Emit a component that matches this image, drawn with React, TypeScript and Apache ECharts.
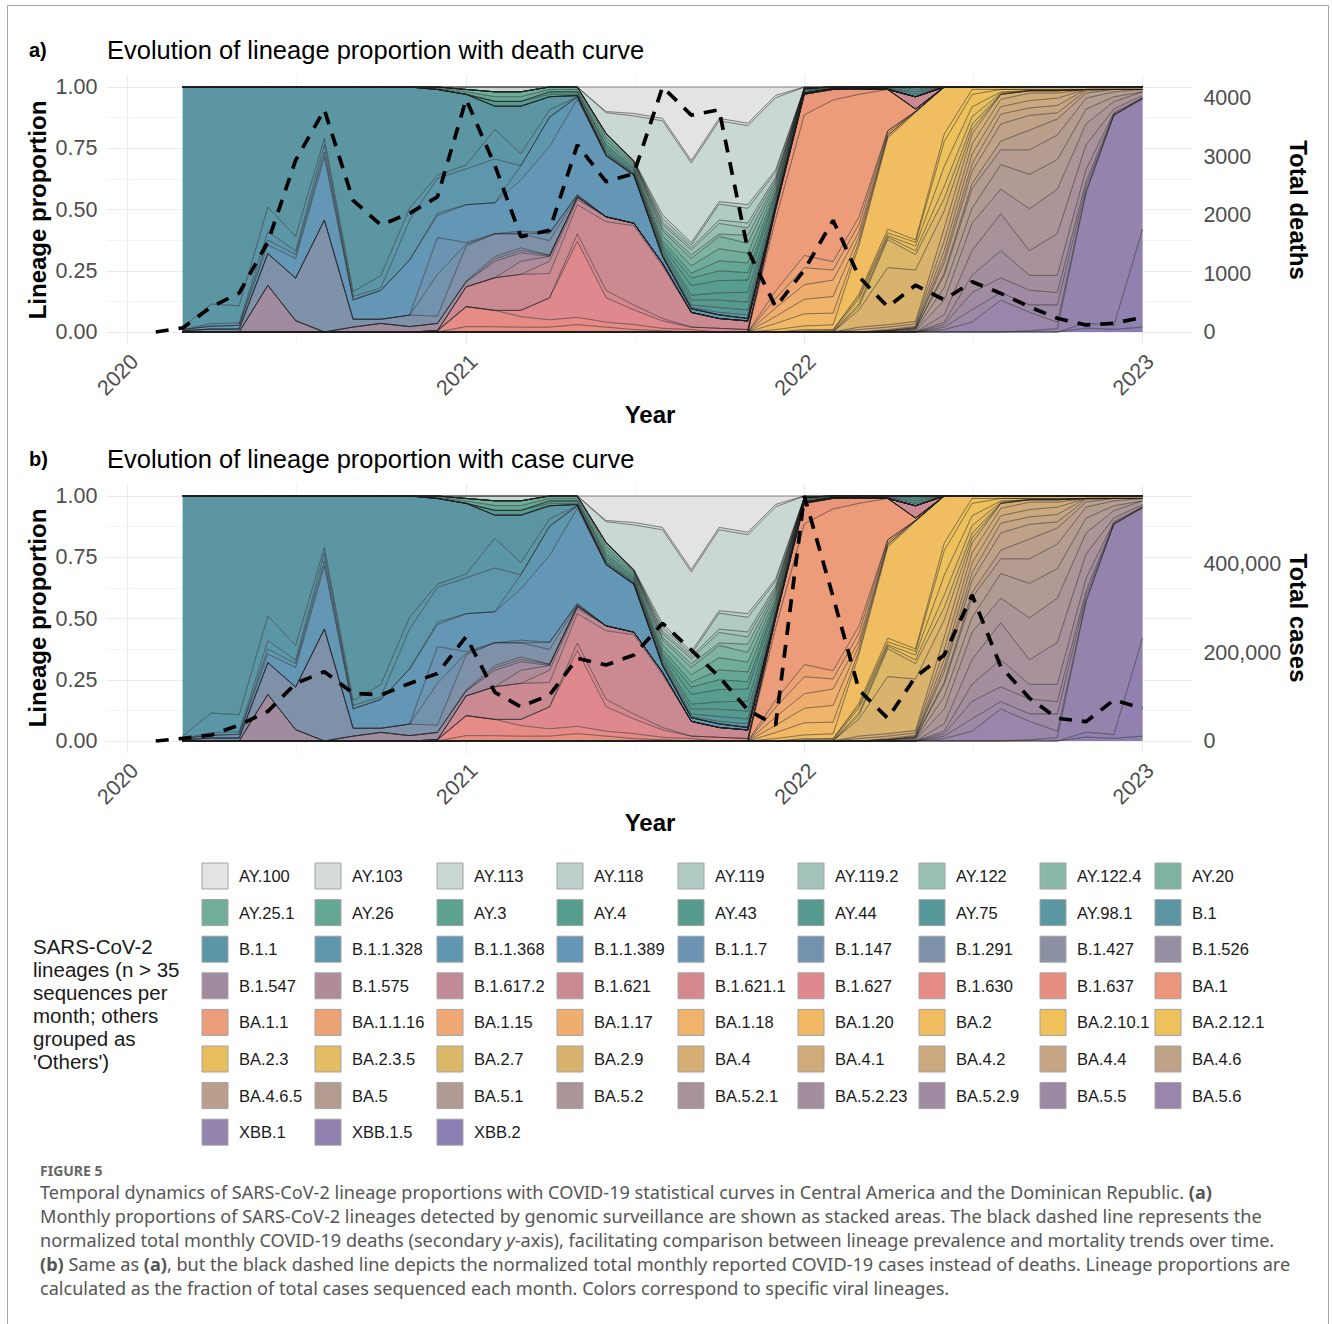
import React, { useEffect, useRef } from 'react';
import * as echarts from 'echarts';

// ---------- categories ----------
const MONTHS = [
  '2020-03','2020-04','2020-05','2020-06','2020-07','2020-08','2020-09','2020-10','2020-11','2020-12',
  '2021-01','2021-02','2021-03','2021-04','2021-05','2021-06','2021-07','2021-08','2021-09','2021-10','2021-11','2021-12',
  '2022-01','2022-02','2022-03','2022-04','2022-05','2022-06','2022-07','2022-08','2022-09','2022-10','2022-11','2022-12',
  '2023-01',
];
const LINE_MONTHS = ['2020-02', ...MONTHS];
const YEAR_TICKS = ['2020-01-01', '2021-01-01', '2022-01-01', '2023-01-01'];
const HALF_YEAR_TICKS = ['2020-07-02', '2021-07-02', '2022-07-02'];
const PROP_TICKS = [0, 0.25, 0.5, 0.75, 1];
const PROP_MINOR = [0.125, 0.375, 0.625, 0.875];
const DEATH_TICKS = [0, 1000, 2000, 3000, 4000];
const CASE_TICKS = [0, 200000, 400000];

// ---------- lineage proportions (monthly, Mar 2020 .. Jan 2023) ----------
// layout of each array: 2020 Mar-Dec (10) | 2021 (12) | 2022 (12) | 2023 Jan (1)
const AY_LINEAGES: [string, number[]][] = [
  ['AY.100',  [0,0,0,0,0,0,0,0,0,0, 0,0,0,0,0,.10,.108,.128,.30,.128,.148,.035, 0,0,0,0,0,0,0,0,0,0,0,0, 0]],
  ['AY.103',  [0,0,0,0,0,0,0,0,0,0, 0,0,0,0,0,.005,.01,.01,.01,.01,.01,.01, 0,0,0,0,0,0,0,0,0,0,0,0, 0]],
  ['AY.113',  [0,0,0,0,0,0,0,0,0,0, .01,.02,.02,0,0,.085,.182,.384,.325,.33,.322,.30, .005,0,0,0,0,0,0,0,0,0,0,0, 0]],
  ['AY.118',  [0,0,0,0,0,0,0,0,0,0, 0,0,0,0,0,0,.001,.015,.01,.01,.015,.01, 0,0,0,0,0,0,0,0,0,0,0,0, 0]],
  ['AY.119',  [0,0,0,0,0,0,0,0,0,0, 0,0,0,0,0,0,.001,.015,.01,.065,.06,.02, 0,0,0,0,0,0,0,0,0,0,0,0, 0]],
  ['AY.119.2',[0,0,0,0,0,0,0,0,0,0, 0,0,0,0,0,0,.002,.01,.01,.014,.02,.01, 0,0,0,0,0,0,0,0,0,0,0,0, 0]],
  ['AY.122',  [0,0,0,0,0,0,0,0,0,0, 0,0,0,0,0,0,.002,.015,.02,.043,.03,.01, 0,0,0,0,0,0,0,0,0,0,0,0, 0]],
  ['AY.122.4',[0,0,0,0,0,0,0,0,0,0, 0,0,0,0,0,0,.002,.01,.015,.01,.033,.01, 0,0,0,0,0,0,0,0,0,0,0,0, 0]],
  ['AY.20',   [0,0,0,0,0,0,0,0,0,0, 0,0,0,0,0,.015,.006,.02,.03,.05,.04,.015, 0,0,0,0,0,0,0,0,0,0,0,0, 0]],
  ['AY.25.1', [0,0,0,0,0,0,0,0,0,.005, .01,.02,.02,.01,.01,.015,.008,.02,.03,.05,.04,.015, 0,0,0,0,0,0,0,0,0,0,0,0, 0]],
  ['AY.26',   [0,0,0,0,0,0,0,0,0,.005, .01,.02,.02,.01,.01,.015,.008,.015,.02,.04,.04,.01, 0,0,0,0,0,0,0,0,0,0,0,0, 0]],
  ['AY.3',    [0,0,0,0,0,0,0,0,0,0, 0,0,0,0,0,.01,.006,.01,.03,.04,.03,.01, 0,0,0,0,0,0,0,0,0,0,0,0, 0]],
  ['AY.4',    [0,0,0,0,0,0,0,0,0,0, 0,0,0,.01,.01,.01,.008,.01,.04,.05,.05,.015, .005,0,0,0,0,0,0,0,0,0,0,0, 0]],
  ['AY.43',   [0,0,0,0,0,0,0,0,0,0, 0,.02,.02,.01,.005,.01,.006,.01,.02,.03,.04,.01, 0,0,0,0,.01,0,0,0,0,0,0,0, 0]],
  ['AY.44',   [0,0,0,0,0,0,0,0,0,0, 0,0,0,0,0,.005,.004,.01,.02,.03,.032,.01, .005,.004,0,.005,.01,0,0,0,0,0,0,0, 0]],
  ['AY.75',   [0,0,0,0,0,0,0,0,0,0, 0,0,0,0,0,.005,.003,.005,.01,.02,.02,.005, .005,0,.005,0,.01,0,0,0,0,0,0,0, 0]],
  ['AY.98.1', [0,0,0,0,0,0,0,0,0,0, 0,0,0,0,0,.005,.003,.005,.005,.01,.015,.005, .005,.003,0,.005,.01,0,0,0,0,0,0,0, 0]],
];

const B_LINEAGES: [string, number[]][] = [
  ['B.1',       [.98,.886,.893,.49,.61,.21,.835,.77,.495,.35, .29,.096,.198,.054,.005,0,0,0,0,0,0,0, 0,0,0,0,0,0,0,0,0,0,0,0, 0]],
  ['B.1.1',     [.01,.08,.07,.10,.06,.025,.02,.05,.048,.013, .016,.124,.05,.03,0,0,0,0,0,0,0,0, 0,0,0,0,0,0,0,0,0,0,0,0, 0]],
  ['B.1.1.328', [0,.01,.01,.035,.014,.03,.014,.01,.163,.142, .147,.182,0,0,0,0,0,0,0,0,0,0, 0,0,0,0,0,0,0,0,0,0,0,0, 0]],
  ['B.1.1.368', [0,0,0,.02,.016,.02,0,0,0,.01, 0,0,.059,.12,.01,0,0,0,0,0,0,0, 0,0,0,0,0,0,0,0,0,0,0,0, 0]],
  ['B.1.1.389', [.005,.012,.015,.035,.08,.258,.079,.118,.225,.09, .155,.129,.213,.356,.39,.25,.196,.028,.015,.015,.01,0, 0,0,0,0,0,0,0,0,0,0,0,0, 0]],
  ['B.1.1.7',   [0,0,0,0,0,0,0,0,0,.15, .007,0,.011,0,0,0,0,0,0,0,0,0, 0,0,0,0,0,0,0,0,0,0,0,0, 0]],
  ['B.1.147',   [0,0,0,0,0,0,0,0,0,.17, .007,0,0,.03,.005,0,0,0,0,0,0,0, 0,0,0,0,0,0,0,0,0,0,0,0, 0]],
  ['B.1.291',   [.005,.012,.012,.13,.174,.457,.032,.017,.047,.03, .143,.095,.059,.06,.005,0,0,0,0,0,0,0, 0,0,0,0,0,0,0,0,0,0,0,0, 0]],
  ['B.1.427',   [0,0,0,0,0,0,0,0,0,0, .005,.01,.01,0,0,0,0,0,0,0,0,0, 0,0,0,0,0,0,0,0,0,0,0,0, 0]],
  ['B.1.526',   [0,0,0,0,0,0,0,0,0,0, 0,.01,.01,.005,0,0,0,0,0,0,0,0, 0,0,0,0,0,0,0,0,0,0,0,0, 0]],
  ['B.1.547',   [0,0,0,.19,.046,0,.02,.035,.022,.03, .02,.068,.036,0,0,0,0,0,0,0,0,0, 0,0,0,0,0,0,0,0,0,0,0,0, 0]],
  ['B.1.575',   [0,0,0,0,0,0,0,0,0,0, 0,0,.054,.02,.01,0,0,0,0,0,0,0, 0,0,0,0,0,0,0,0,0,0,0,0, 0]],
  ['B.1.617.2', [0,0,0,0,0,0,0,0,0,0, 0,0,0,.05,.02,.02,.01,.01,0,0,0,0, 0,0,0,0,0,0,0,0,0,0,0,0, 0]],
  ['B.1.621',   [0,0,0,0,0,0,0,0,0,0, .081,.136,.15,.10,.12,.28,.324,.215,.06,.04,.035,.01, .005,.003,.005,0,.05,0,0,0,0,0,0,0, 0]],
  ['B.1.621.1', [0,0,0,0,0,0,0,0,0,0, 0,0,0,0,.03,.03,.02,.01,0,0,0,0, 0,0,0,0,0,0,0,0,0,0,0,0, 0]],
  ['B.1.627',   [0,0,0,0,0,0,0,0,0,0, 0,0,.026,.09,.31,.10,.06,.03,.01,.015,.01,0, 0,0,0,0,0,0,0,0,0,0,0,0, 0]],
  ['B.1.630',   [0,0,0,0,0,0,0,0,0,.005, .082,.068,.044,.03,.03,.02,.02,.01,.01,0,0,0, 0,0,0,0,0,0,0,0,0,0,0,0, 0]],
  ['B.1.637',   [0,0,0,0,0,0,0,0,0,0, .022,.022,.02,.02,.03,.02,.01,.005,0,0,0,0, 0,0,0,0,0,0,0,0,0,0,0,0, 0]],
];

const BA1_LINEAGES: [string, number[]][] = [
  ['BA.1',      [0,0,0,0,0,0,0,0,0,0, 0,0,0,0,0,0,0,0,0,0,0,.04, .085,.043,.02,0,0,0,0,0,0,0,0,0, 0]],
  ['BA.1.1',    [0,0,0,0,0,0,0,0,0,0, 0,0,0,0,0,0,0,0,0,0,0,.30, .58,.66,.50,.17,.01,0,0,0,0,0,0,0, 0]],
  ['BA.1.1.16', [0,0,0,0,0,0,0,0,0,0, 0,0,0,0,0,0,0,0,0,0,0,.03, .05,.034,.03,0,0,0,0,0,0,0,0,0, 0]],
  ['BA.1.15',   [0,0,0,0,0,0,0,0,0,0, 0,0,0,0,0,0,0,0,0,0,0,.04, .07,.041,.03,.01,0,0,0,0,0,0,0,0, 0]],
  ['BA.1.17',   [0,0,0,0,0,0,0,0,0,0, 0,0,0,0,0,0,0,0,0,0,0,.035, .06,.067,.02,.01,0,0,0,0,0,0,0,0, 0]],
  ['BA.1.18',   [0,0,0,0,0,0,0,0,0,0, 0,0,0,0,0,0,0,0,0,0,0,.03, .06,.068,.02,0,0,0,0,0,0,0,0,0, 0]],
  ['BA.1.20',   [0,0,0,0,0,0,0,0,0,0, 0,0,0,0,0,0,0,0,0,0,0,.025, .05,.048,.015,.01,.004,0,0,0,0,0,0,0, 0]],
];

const BA2_LINEAGES: [string, number[]][] = [
  ['BA.2',      [0,0,0,0,0,0,0,0,0,0, 0,0,0,0,0,0,0,0,0,0,0,.01, .015,.02,.20,.375,.52,.19,.01,.01,.01,.01,.01,.01, .01]],
  ['BA.2.10.1', [0,0,0,0,0,0,0,0,0,0, 0,0,0,0,0,0,0,0,0,0,0,0, .005,0,.01,.015,.01,.03,.02,0,0,0,0,0, 0]],
  ['BA.2.12.1', [0,0,0,0,0,0,0,0,0,0, 0,0,0,0,0,0,0,0,0,0,0,0, .005,.005,.01,.012,.015,.10,.05,.01,.005,.005,0,0, 0]],
  ['BA.2.3',    [0,0,0,0,0,0,0,0,0,0, 0,0,0,0,0,0,0,0,0,0,0,0, 0,.004,.02,.006,.02,.08,.04,.005,0,0,0,0, 0]],
  ['BA.2.3.5',  [0,0,0,0,0,0,0,0,0,0, 0,0,0,0,0,0,0,0,0,0,0,0, 0,0,.01,.01,.015,.05,.03,.005,0,0,0,0, 0]],
  ['BA.2.7',    [0,0,0,0,0,0,0,0,0,0, 0,0,0,0,0,0,0,0,0,0,0,0, 0,0,.015,.115,.063,.05,.02,0,0,0,0,0, 0]],
  ['BA.2.9',    [0,0,0,0,0,0,0,0,0,0, 0,0,0,0,0,0,0,0,0,0,0,0, 0,0,.07,.235,.21,.07,.02,0,0,0,0,0, 0]],
];

const BA4_LINEAGES: [string, number[]][] = [
  ['BA.4',      [0,0,0,0,0,0,0,0,0,0, 0,0,0,0,0,0,0,0,0,0,0,0, 0,0,.01,.01,.01,.05,.04,.02,.01,.01,0,0, 0]],
  ['BA.4.1',    [0,0,0,0,0,0,0,0,0,0, 0,0,0,0,0,0,0,0,0,0,0,0, 0,0,.01,.01,.01,.04,.04,.03,.03,.02,0,0, 0]],
  ['BA.4.2',    [0,0,0,0,0,0,0,0,0,0, 0,0,0,0,0,0,0,0,0,0,0,0, 0,0,0,.005,.005,.03,.04,.03,.03,.03,0,0, 0]],
  ['BA.4.4',    [0,0,0,0,0,0,0,0,0,0, 0,0,0,0,0,0,0,0,0,0,0,0, 0,0,0,0,0,.02,.03,.04,.03,.03,.005,0, 0]],
  ['BA.4.6',    [0,0,0,0,0,0,0,0,0,0, 0,0,0,0,0,0,0,0,0,0,0,0, 0,0,0,0,.005,.04,.05,.07,.06,.025,.01,0, 0]],
  ['BA.4.6.5',  [0,0,0,0,0,0,0,0,0,0, 0,0,0,0,0,0,0,0,0,0,0,0, 0,0,0,0,0,.01,.02,.035,.08,.065,.02,.01, 0]],
];

const BA5_LINEAGES: [string, number[]][] = [
  ['BA.5',      [0,0,0,0,0,0,0,0,0,0, 0,0,0,0,0,0,0,0,0,0,0,0, 0,0,0,.005,.005,.05,.08,.06,.10,.10,.045,.02, .01]],
  ['BA.5.1',    [0,0,0,0,0,0,0,0,0,0, 0,0,0,0,0,0,0,0,0,0,0,0, 0,0,0,0,.004,.05,.06,.10,.14,.12,.06,.02, 0]],
  ['BA.5.2',    [0,0,0,0,0,0,0,0,0,0, 0,0,0,0,0,0,0,0,0,0,0,0, 0,0,0,0,.004,.06,.11,.10,.17,.18,.085,.03, .015]],
  ['BA.5.2.1',  [0,0,0,0,0,0,0,0,0,0, 0,0,0,0,0,0,0,0,0,0,0,0, 0,0,0,0,0,.03,.10,.15,.10,.17,.10,.015, .01]],
  ['BA.5.2.23', [0,0,0,0,0,0,0,0,0,0, 0,0,0,0,0,0,0,0,0,0,0,0, 0,0,0,0,0,.01,.07,.11,.06,.07,.05,.005, 0]],
  ['BA.5.2.9',  [0,0,0,0,0,0,0,0,0,0, 0,0,0,0,0,0,0,0,0,0,0,0, 0,0,0,0,0,.01,.07,.06,.06,.05,.02,.005, 0]],
  ['BA.5.5',    [0,0,0,0,0,0,0,0,0,0, 0,0,0,0,0,0,0,0,0,0,0,0, 0,0,0,0,0,.01,.05,.03,.03,.07,.02,0, 0]],
  ['BA.5.6',    [0,0,0,0,0,0,0,0,0,0, 0,0,0,0,0,0,0,0,0,0,0,0, 0,0,0,0,0,.01,.04,.13,.075,.026,.004,0, .005]],
];

const XBB_LINEAGES: [string, number[]][] = [
  ['XBB.1',     [0,0,0,0,0,0,0,0,0,0, 0,0,0,0,0,0,0,0,0,0,0,0, 0,0,0,0,0,0,0,0,.005,.014,.53,.86, .53]],
  ['XBB.1.5',   [0,0,0,0,0,0,0,0,0,0, 0,0,0,0,0,0,0,0,0,0,0,0, 0,0,0,0,0,0,0,0,0,0,.02,.015, .40]],
  ['XBB.2',     [0,0,0,0,0,0,0,0,0,0, 0,0,0,0,0,0,0,0,0,0,0,0, 0,0,0,0,0,0,0,0,0,0,.016,.011, .02]],
];

// ---------- monthly totals (Feb 2020 .. Jan 2023) ----------
// 2020 Feb-Dec (11) | 2021 (12) | 2022 (12) | 2023 Jan (1)
const DEATHS = [0,70,430,665,1540,2940,3800,2250,1830,2030,2310, 3980,2850,1630,1740,3200,2570,2710,4190,3710,3800,1400,430, 1060,1910,945,430,800,550,860,660,430,235,120,150, 250];
const CASES = [0,6000,13500,36000,67000,130000,156700,107800,104000,130000,152600, 235700,110000,77500,104000,187000,171800,194400,266000,205700,145300,70000,36000, 553700,326000,115200,51300,145300,194400,330000,168000,96500,51300,43600,92700, 73900];

// ---------- styles ----------
const COLORS: Record<string, string> = {
  'AY.100': '#e3e3e3', 'AY.103': '#d6dcd9', 'AY.113': '#c9d8d3', 'AY.118': '#bcd1cb', 'AY.119': '#afcbc3',
  'AY.119.2': '#a4c5bb', 'AY.122': '#98bfb2', 'AY.122.4': '#8bb9a9', 'AY.20': '#7eb3a2', 'AY.25.1': '#70ad9b',
  'AY.26': '#65a795', 'AY.3': '#5ba291', 'AY.4': '#589e8f', 'AY.43': '#579b8f', 'AY.44': '#56998f',
  'AY.75': '#56979a', 'AY.98.1': '#5a97a0', 'B.1': '#5c96a3', 'B.1.1': '#5c97a8', 'B.1.1.328': '#5e97ac',
  'B.1.1.368': '#6097b0', 'B.1.1.389': '#6496b5', 'B.1.1.7': '#6a94b2', 'B.1.147': '#7392ad', 'B.1.291': '#7f91a8',
  'B.1.427': '#8b90a4', 'B.1.526': '#978ea2', 'B.1.547': '#a18c9f', 'B.1.575': '#b08c9a', 'B.1.617.2': '#c08b97',
  'B.1.621': '#cb8a92', 'B.1.621.1': '#d6888f', 'B.1.627': '#df898e', 'B.1.630': '#e68b86', 'B.1.637': '#e88e80',
  'BA.1': '#ea967a', 'BA.1.1': '#ec9c78', 'BA.1.1.16': '#eda276', 'BA.1.15': '#efa874', 'BA.1.17': '#f0ae6e',
  'BA.1.18': '#f0b36a', 'BA.1.20': '#f1b865', 'BA.2': '#f0bd60', 'BA.2.10.1': '#f1c25a', 'BA.2.12.1': '#eec15a',
  'BA.2.3': '#e9bf5e', 'BA.2.3.5': '#e3bc63', 'BA.2.7': '#ddb768', 'BA.2.9': '#d9b26d', 'BA.4': '#d4ae74',
  'BA.4.1': '#d0ab79', 'BA.4.2': '#cba87e', 'BA.4.4': '#c5a584', 'BA.4.6': '#bfa288', 'BA.4.6.5': '#ba9f8c',
  'BA.5': '#b49c90', 'BA.5.1': '#b19a94', 'BA.5.2': '#ac9597', 'BA.5.2.1': '#a8919b', 'BA.5.2.23': '#a48e9e',
  'BA.5.2.9': '#a08ba3', 'BA.5.5': '#9c89a6', 'BA.5.6': '#9986aa', 'XBB.1': '#9484ad', 'XBB.1.5': '#9081b0',
  'XBB.2': '#8c7eb3',
};

const FONT = "'Liberation Sans', Arial, Helvetica, sans-serif";
const CAP_FONT = "'Noto Sans', 'Open Sans', sans-serif";
const LEG_COL_X = [202, 315, 437, 557, 678, 798, 919, 1040, 1155];

const toT = (s: string) => {
  const [y, m, d] = s.split('-').map(Number);
  return Date.UTC(y, m - 1, d || 1);
};

function buildOption() {
  const ALL = [...AY_LINEAGES, ...B_LINEAGES, ...BA1_LINEAGES, ...BA2_LINEAGES, ...BA4_LINEAGES, ...BA5_LINEAGES, ...XBB_LINEAGES];
  const T = MONTHS.map(toT);
  const LT = LINE_MONTHS.map(toT);
  const totals = T.map((_, i) => ALL.reduce((s, [, v]) => s + v[i], 0));
  const stackOrder = [...ALL].reverse();

  const lineStart = LT[0];
  const lineEnd = LT[LT.length - 1];
  const span = lineEnd - lineStart;
  const X_MIN = lineStart - 0.05 * span;
  const X_MAX = lineEnd + 0.05 * span;
  const yearT = YEAR_TICKS.map(toT);
  const halfT = HALF_YEAR_TICKS.map(toT);
  const dMax = Math.max(...DEATHS);
  const cMax = Math.max(...CASES);

  const gridTop = [74.75, 483.75];
  const grid = gridTop.map((top) => ({ left: 106.4, top, width: 1085.5, height: 269.5, containLabel: false }));

  const labelStyle = { fontSize: 21.5, color: '#4d4d4d', fontFamily: FONT };
  const major = { show: true, lineStyle: { color: '#ebebeb', width: 1.1 } };
  const minor = { show: true, lineStyle: { color: '#ebebeb', width: 0.55 } };
  const hidden = { axisLine: { show: false }, axisTick: { show: false }, axisLabel: { show: false }, splitLine: { show: false } };

  const xAxis: any[] = [];
  const yAxis: any[] = [];
  [0, 1].forEach((g) => {
    // host time axis for the series (drawn invisibly)
    xAxis.push({ type: 'time', gridIndex: g, min: X_MIN, max: X_MAX, position: 'bottom', ...hidden });
    // visible year labels + major vertical grid
    xAxis.push({
      type: 'value', gridIndex: g, min: X_MIN, max: X_MAX, position: 'bottom',
      axisLine: { show: false }, axisTick: { show: false, customValues: yearT },
      axisLabel: { ...labelStyle, customValues: yearT, rotate: 45, margin: 6, verticalAlign: 'top', formatter: (v: number) => String(new Date(v).getUTCFullYear()) },
      splitLine: major,
    });
    // minor vertical grid
    xAxis.push({
      type: 'value', gridIndex: g, min: X_MIN, max: X_MAX, position: 'top',
      axisLine: { show: false }, axisTick: { show: false, customValues: halfT }, axisLabel: { show: false },
      splitLine: minor,
    });
    const M = g === 0 ? dMax : cMax;
    const ticks = g === 0 ? DEATH_TICKS : CASE_TICKS;
    yAxis.push({
      type: 'value', gridIndex: g, min: -0.05, max: 1.05, position: 'left',
      axisLine: { show: false }, axisTick: { show: false, customValues: PROP_TICKS },
      axisLabel: { ...labelStyle, customValues: PROP_TICKS, margin: 9, formatter: (v: number) => v.toFixed(2) },
      splitLine: major,
    });
    yAxis.push({
      type: 'value', gridIndex: g, min: -0.05 * M, max: 1.05 * M, position: 'right',
      axisLine: { show: false }, axisTick: { show: false, customValues: ticks },
      axisLabel: { ...labelStyle, customValues: ticks, margin: 11.5, formatter: (v: number) => (g === 0 ? String(v) : v.toLocaleString('en-US')) },
      splitLine: { show: false },
    });
    yAxis.push({
      type: 'value', gridIndex: g, min: -0.05, max: 1.05, position: 'left',
      axisLine: { show: false }, axisTick: { show: false, customValues: PROP_MINOR }, axisLabel: { show: false },
      splitLine: minor,
    });
  });

  const series: any[] = [];
  [0, 1].forEach((g) => {
    stackOrder.forEach(([name, vals]) => {
      series.push({
        type: 'line', name, xAxisIndex: g * 3, yAxisIndex: g * 3, stack: 'panel' + g,
        data: vals.map((v, i) => [T[i], v / totals[i]]),
        symbol: 'none', showSymbol: false, silent: true, z: 2,
        color: COLORS[name],
        lineStyle: { width: 0.6, color: '#1e1e1e', opacity: 0.9 },
        areaStyle: { color: COLORS[name], opacity: 1 },
        emphasis: { disabled: true },
      });
    });
    const vals = g === 0 ? DEATHS : CASES;
    series.push({
      type: 'line', name: g === 0 ? 'Total deaths' : 'Total cases', xAxisIndex: g * 3, yAxisIndex: g * 3 + 1,
      data: vals.map((v, i) => [LT[i], v]),
      symbol: 'none', showSymbol: false, silent: true, z: 10,
      lineStyle: { color: '#000', width: 3.7, type: [13, 10], cap: 'butt' },
      emphasis: { disabled: true },
    });
  });

  const legend = LEG_COL_X.map((x, c) => ({
    orient: 'vertical', left: x - 0.5, top: 862.5, padding: 0,
    itemWidth: 26, itemHeight: 26, itemGap: 9.6, icon: 'rect', selectedMode: false,
    textStyle: { fontSize: 16.5, fontFamily: FONT, color: '#1a1a1a', padding: [0, 0, 0, 6] },
    data: ALL.filter((_, i) => i % 9 === c).map(([name]) => ({
      name, itemStyle: { color: COLORS[name], borderColor: '#a3a3a3', borderWidth: 1 },
    })),
  }));

  const txt = (x: number, y: number, text: string, o: any = {}) => ({
    type: 'text', x, y, rotation: o.rotation || 0, silent: true,
    style: {
      text, fontSize: o.fontSize || 20, fontWeight: o.fontWeight || 'normal', fontFamily: o.fontFamily || FONT,
      fill: o.fill || '#000', align: o.align || 'left', verticalAlign: o.verticalAlign || 'middle',
      lineHeight: o.lineHeight, rich: o.rich,
    },
  });

  const CAP_SIZE = 18.1;
  const capRich = {
    b: { fontSize: CAP_SIZE, fontFamily: CAP_FONT, fontWeight: 'bold', fill: '#555' },
    i: { fontSize: CAP_SIZE, fontFamily: CAP_FONT, fontStyle: 'italic', fill: '#555' },
  };
  const cap = (y: number, text: string) => txt(40, y, text, { fontSize: CAP_SIZE, fontFamily: CAP_FONT, fill: '#555', rich: capRich });

  const graphic: any[] = [
    { type: 'rect', silent: true, shape: { x: 7.5, y: 5.5, width: 1321, height: 1330 }, style: { fill: 'none', stroke: '#a6a6a6', lineWidth: 1 } },
    txt(29, 50, 'a)', { fontSize: 20, fontWeight: 'bold' }),
    txt(107, 50, 'Evolution of lineage proportion with death curve', { fontSize: 25.5 }),
    txt(29, 459, 'b)', { fontSize: 20, fontWeight: 'bold' }),
    txt(107, 459, 'Evolution of lineage proportion with case curve', { fontSize: 25.5 }),
    txt(37, 210, 'Lineage proportion', { fontSize: 24, fontWeight: 'bold', align: 'center', rotation: Math.PI / 2 }),
    txt(37, 618, 'Lineage proportion', { fontSize: 24, fontWeight: 'bold', align: 'center', rotation: Math.PI / 2 }),
    txt(1298, 210, 'Total deaths', { fontSize: 24, fontWeight: 'bold', align: 'center', rotation: -Math.PI / 2 }),
    txt(1298, 618, 'Total cases', { fontSize: 24, fontWeight: 'bold', align: 'center', rotation: -Math.PI / 2 }),
    txt(650, 414, 'Year', { fontSize: 24, fontWeight: 'bold', align: 'center' }),
    txt(650, 822, 'Year', { fontSize: 24, fontWeight: 'bold', align: 'center' }),
    txt(33, 935, "SARS-CoV-2\nlineages (n > 35\nsequences per\nmonth; others\ngrouped as\n'Others')", { fontSize: 20.5, fill: '#1a1a1a', verticalAlign: 'top', lineHeight: 23 }),
    txt(40, 1170, 'FIGURE 5', { fontSize: 14, fontFamily: CAP_FONT, fill: '#666', fontWeight: 'bold' }),
    cap(1192, 'Temporal dynamics of SARS-CoV-2 lineage proportions with COVID-19 statistical curves in Central America and the Dominican Republic. {b|(a)}'),
    cap(1216, 'Monthly proportions of SARS-CoV-2 lineages detected by genomic surveillance are shown as stacked areas. The black dashed line represents the'),
    cap(1240, 'normalized total monthly COVID-19 deaths (secondary {i|y}-axis), facilitating comparison between lineage prevalence and mortality trends over time.'),
    cap(1264, '{b|(b)} Same as {b|(a)}, but the black dashed line depicts the normalized total monthly reported COVID-19 cases instead of deaths. Lineage proportions are'),
    cap(1288, 'calculated as the fraction of total cases sequenced each month. Colors correspond to specific viral lineages.'),
  ];

  return {
    animation: false,
    backgroundColor: '#ffffff',
    grid, xAxis, yAxis, series, legend, graphic,
  };
}

export default function App() {
  const ref = useRef<HTMLDivElement>(null);
  useEffect(() => {
    if (!ref.current) return;
    const chart = echarts.init(ref.current, null, { renderer: 'svg' });
    chart.setOption(buildOption() as any);
    return () => chart.dispose();
  }, []);
  return <div ref={ref} style={{ position: 'absolute', left: 0, top: 0, width: 1332, height: 1324, background: '#fff' }} />;
}
